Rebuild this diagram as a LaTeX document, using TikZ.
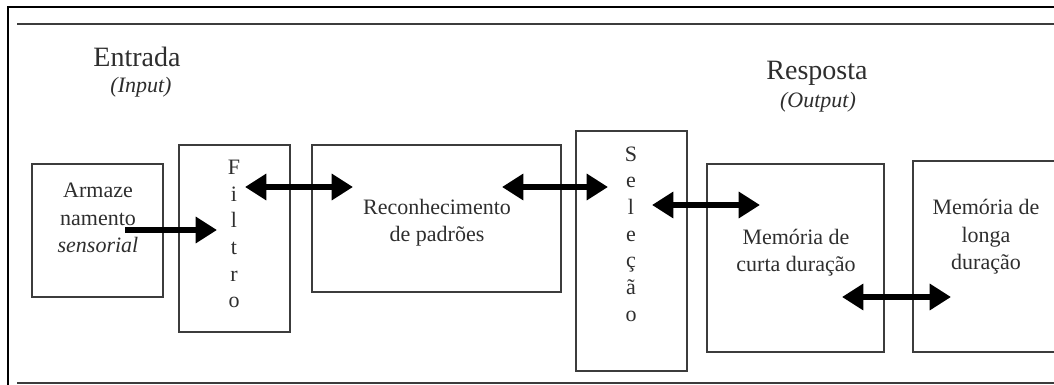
\documentclass[tikz,border=0pt]{standalone}
\usepackage{fontspec}
\setmainfont{Liberation Serif}
\usetikzlibrary{arrows.meta}
\definecolor{boxgrey}{HTML}{3C3C3C}
\definecolor{txtgrey}{HTML}{2E2E2E}
\begin{document}
\begin{tikzpicture}[x=0.75pt,y=-0.75pt,
  frame/.style={line width=2pt,black},
  rule/.style={line width=0.9pt,boxgrey},
  blk/.style={draw=boxgrey,line width=0.9pt,inner sep=0pt},
  title/.style={text=txtgrey,font=\fontsize{21}{24}\selectfont,inner sep=0pt},
  sub/.style={text=txtgrey,font=\fontsize{16.5}{20}\selectfont\itshape,inner sep=0pt},
  lbl/.style={text=txtgrey,font=\fontsize{16.5}{20.5}\selectfont,align=center,inner sep=0pt},
  vlbl/.style={text=txtgrey,font=\fontsize{16.5}{20}\selectfont,align=center,inner sep=0pt},
  conn/.style={line width=4.2pt,black,{Triangle[length=16pt,width=19pt]}-{Triangle[length=16pt,width=19pt]}},
  conn1/.style={line width=4.2pt,black,-{Triangle[length=16pt,width=19pt]}}]
\useasboundingbox (0,0) rectangle (1054,385);
% frame
\coordinate (tl) at (8,7);
\coordinate (tr) at (1054,7);
\coordinate (bl) at (8,385);
\draw[frame] (tr) -- (tl) -- (bl);
\coordinate (r1a) at (17,24);
\coordinate (r1b) at (1054,24);
\draw[rule] (r1a) -- (r1b);
\coordinate (r2a) at (17,383);
\coordinate (r2b) at (1054,383);
\draw[rule] (r2a) -- (r2b);
% titles
\node[title] (entrada) at (137,57) {Entrada};
\node[sub] (input) at (141,87) {(Input)};
\node[title] (resposta) at (817,73) {Resposta};
\node[sub] (output) at (818,102) {(Output)};
% boxes
\node[blk,minimum width=131*0.75pt,minimum height=133*0.75pt] (arm) at (97.5,230.5) {};
\node[blk,minimum width=111*0.75pt,minimum height=187*0.75pt] (fil) at (234.5,238.5) {};
\node[blk,minimum width=249*0.75pt,minimum height=147*0.75pt] (rec) at (436.5,218.5) {};
\node[blk,minimum width=111*0.75pt,minimum height=240*0.75pt] (sel) at (631.5,251) {};
\node[blk,minimum width=177*0.75pt,minimum height=188*0.75pt] (cur) at (795.5,258) {};
\begin{scope}
\clip (0,0) rectangle (1054,385);
\node[blk,minimum width=160*0.75pt,minimum height=191*0.75pt] (lon) at (993,256.5) {};
\end{scope}
% texts
\node[lbl] (armt) at (98,218) {Armaze\\namento\\\textit{sensorial}};
\node[vlbl] (filt) at (234,234) {F\\i\\l\\t\\r\\o};
\node[lbl] (rect) at (437,223) {Reconhecimento\\de padrões};
\node[vlbl] (selt) at (631,234) {S\\e\\l\\e\\ç\\ã\\o};
\node[lbl] (curt) at (796,253) {Memória de\\curta duração};
\node[lbl] (lont) at (986,237) {Memória de\\longa\\duração};
% connectors
\coordinate (a1s) at (125,230);
\coordinate (a1e) at (217,230);
\draw[conn1] (a1s) -- (a1e);
\coordinate (a2s) at (245,187);
\coordinate (a2e) at (353,187);
\draw[conn] (a2s) -- (a2e);
\coordinate (a3s) at (502,187);
\coordinate (a3e) at (608,187);
\draw[conn] (a3s) -- (a3e);
\coordinate (a4s) at (652,205);
\coordinate (a4e) at (760,205);
\draw[conn] (a4s) -- (a4e);
\coordinate (a5s) at (842,297);
\coordinate (a5e) at (951,297);
\draw[conn] (a5s) -- (a5e);
\end{tikzpicture}
\end{document}
